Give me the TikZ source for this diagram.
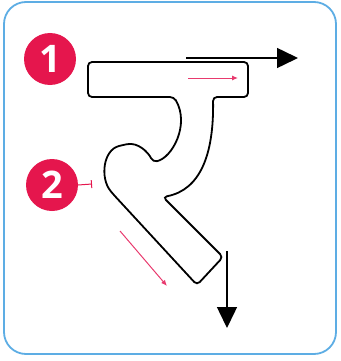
\documentclass[tikz,border=0pt]{standalone}
\usepackage{fontspec}
\setsansfont{Open Sans}
\usetikzlibrary{arrows.meta,positioning,calc}
\definecolor{crimson}{HTML}{E5164D}
\definecolor{pinkarrow}{HTML}{E83A6E}
\definecolor{framecol}{HTML}{5DADE4}

\begin{document}
\begin{tikzpicture}[
  x=1pt, y=-1pt,
  frame/.style={draw=framecol, line width=1.8pt, rounded corners=22pt},
  num/.style={circle, fill=crimson, text=white, inner sep=0pt, minimum size=52pt,
    font=\sffamily\bfseries\fontsize{38}{38}\selectfont},
  glyph/.style={draw=black, line width=1.8pt, rounded corners=4pt, fill=white},
  bigarrow/.style={-{Triangle[length=21pt,width=20pt]}, line width=1.5pt},
  smallarrow/.style={-{Latex[length=6pt,width=5pt]}, pinkarrow, line width=1pt},
  tick/.style={-{Bar[width=8pt]}, crimson, line width=1pt}
]
\useasboundingbox (0,0) rectangle (340,361);

% Frame
\draw[frame] (4,2) rectangle (336,354);

% Letter outline
\draw[glyph] (88,62) -- (248,62) -- (248,97) -- (213,97)
  .. controls (214,155) and (200,190) .. (163,197)
  -- (223,257) -- (197,285) -- (113,194)
  .. controls (100,178) and (103,150) .. (123,145)
  .. controls (138,142) and (148,152) .. (153,162)
  .. controls (172,158) and (190,125) .. (174,97)
  -- (88,97) -- cycle;

% Stroke numbers
\node[num] (n1) at (50,59) {1};
\node[num] (n2) at (52,185) {2};

% Stroke directions
\coordinate (a1s) at (186,58);
\coordinate (a1e) at (298,58);
\coordinate (a2s) at (227,251);
\coordinate (a2e) at (227,328);
\coordinate (p1s) at (188,78);
\coordinate (p1e) at (238,78);
\coordinate (p2s) at (120,231);
\coordinate (p2e) at (167,286);
\coordinate (t2) at (92,184);

\draw[bigarrow] (a1s) -- (a1e);
\draw[bigarrow] (a2s) -- (a2e);
\draw[smallarrow] (p1s) -- (p1e);
\draw[smallarrow] (p2s) -- (p2e);
\draw[tick] (n2.east) -- (t2);

\end{tikzpicture}
\end{document}
